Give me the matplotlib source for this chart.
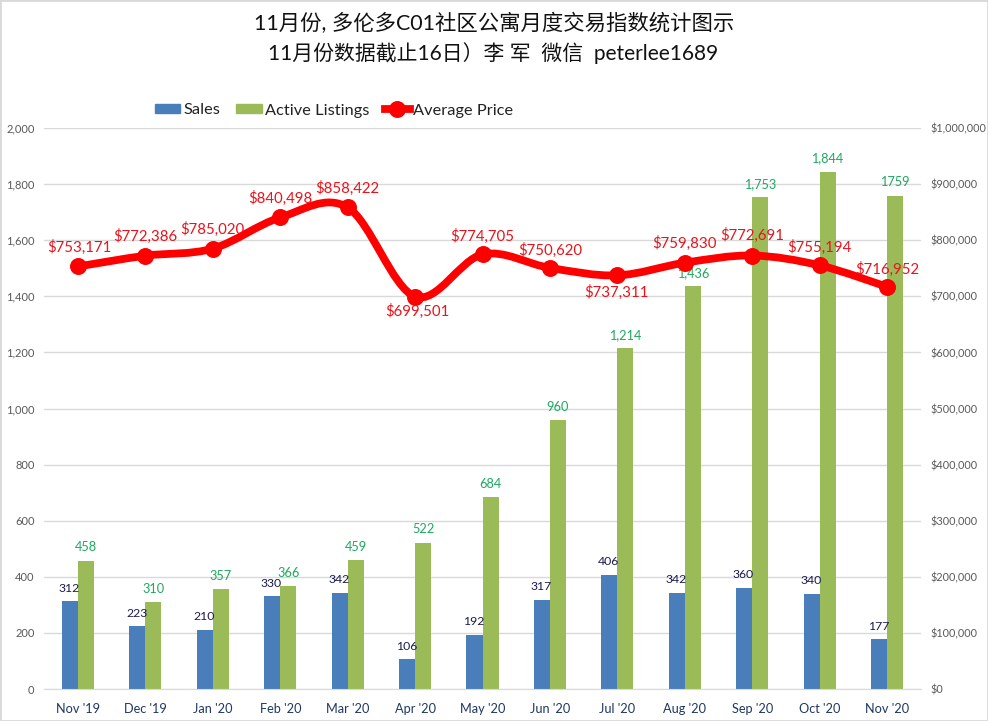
import numpy as np
import matplotlib
matplotlib.use('Agg')
import matplotlib.pyplot as plt
from matplotlib.path import Path
from matplotlib.patches import PathPatch, Patch, Rectangle
from matplotlib.lines import Line2D

months = ["Nov '19", "Dec '19", "Jan '20", "Feb '20", "Mar '20", "Apr '20", "May '20",
          "Jun '20", "Jul '20", "Aug '20", "Sep '20", "Oct '20", "Nov '20"]
sales = [312, 223, 210, 330, 342, 106, 192, 317, 406, 342, 360, 340, 177]
listings = [458, 310, 357, 366, 459, 522, 684, 960, 1214, 1436, 1753, 1844, 1759]
listing_labels = ['458', '310', '357', '366', '459', '522', '684', '960', '1,214', '1,436',
                  '1,753', '1,844', '1759']
prices = [753171, 772386, 785020, 840498, 858422, 699501, 774705, 750620, 737311,
          759830, 772691, 755194, 716952]
title_lines = ['11月份, 多伦多C01社区公寓月度交易指数统计图示',
               '11月份数据截止16日）李 军  微信  peterlee1689']

FONT = ['Lato', 'Noto Sans CJK SC', 'DejaVu Sans']
plt.rcParams['font.family'] = FONT

W, H = 988, 721
fig = plt.figure(figsize=(W / 100, H / 100), dpi=100, facecolor='white')
L, R, T, B = 44.3, 920.7, 128, 689
ax = fig.add_axes([L / W, 1 - B / H, (R - L) / W, (B - T) / H])
ax2 = ax.twinx()
fig.add_artist(Rectangle((0, 0), 1, 1, transform=fig.transFigure, fill=False,
                         edgecolor='#D9D9D9', linewidth=2))

x = np.arange(len(months))
bw = 16 / 67.4
BLUE, GREEN, RED = '#4A7EBB', '#9BBB59', '#FF0000'
ax.bar(x - bw / 2, sales, bw, color=BLUE, zorder=2)
ax.bar(x + bw / 2, listings, bw, color=GREEN, zorder=2)
ax.set_xlim(-0.5, len(months) - 0.5)
ax.set_ylim(0, 2000)
ax.set_yticks(range(0, 2001, 200))
ax.set_yticklabels([f'{v:,}' for v in range(0, 2001, 200)])
ax.set_xticks(x)
ax.set_xticklabels(months)
ax.grid(axis='y', color='#D9D9D9', linewidth=1, zorder=0)
ax.set_axisbelow(True)
ax2.set_ylim(0, 1000000)
ax2.set_yticks(range(0, 1000001, 100000))
ax2.set_yticklabels([f'${v:,}' for v in range(0, 1000001, 100000)])
for a in (ax, ax2):
    for s in ('top', 'left', 'right'):
        a.spines[s].set_visible(False)
    a.spines['bottom'].set_visible(False)
ax.spines['bottom'].set_visible(True)
ax.spines['bottom'].set_color('#D9D9D9')
ax.tick_params(axis='y', length=0, labelsize=8.0, labelcolor='#595959', pad=7)
ax2.tick_params(axis='y', length=0, labelsize=7.8, labelcolor='#595959', pad=7)
ax.tick_params(axis='x', length=0, labelsize=9.2, labelcolor='#1F3864', pad=10)

# Excel-style smoothed line through the monthly prices
verts = [(x[0], prices[0])]
codes = [Path.MOVETO]
n = len(x)
for i in range(n - 1):
    p0 = np.array([x[max(i - 1, 0)], prices[max(i - 1, 0)]], float)
    p1 = np.array([x[i], prices[i]], float)
    p2 = np.array([x[i + 1], prices[i + 1]], float)
    p3 = np.array([x[min(i + 2, n - 1)], prices[min(i + 2, n - 1)]], float)
    verts += [tuple(p1 + (p2 - p0) / 6), tuple(p2 - (p3 - p1) / 6), tuple(p2)]
    codes += [Path.CURVE4] * 3
ax2.add_patch(PathPatch(Path(verts, codes), fill=False, edgecolor=RED, linewidth=5.6,
                        capstyle='round', zorder=4))
ax2.plot(x, prices, linestyle='none', marker='o', markersize=11.2, color=RED, zorder=5)

for xi, v in zip(x, sales):
    ax.annotate(str(v), (xi - bw / 2, v), xytext=(-0.5, 9.5), textcoords='offset points',
                ha='center', va='center', fontsize=8.8, color='#1B1B4F', zorder=6)
for xi, v, t in zip(x, listings, listing_labels):
    ax.annotate(t, (xi + bw / 2, v), xytext=(0, 9.5), textcoords='offset points',
                ha='center', va='center', fontsize=9.2, color='#1FA85F', zorder=6)

price_offset = [(1.5, 19), (0, 19), (0, 19), (0, 19), (0, 19), (2, -15), (0, 18),
                (0, 18), (-1, -17), (0, 19), (0, 20), (0, 18), (0, 17)]
for xi, v, (dx, dy) in zip(x, prices, price_offset):
    ax2.annotate(f'${v:,}', (xi, v), xytext=(dx * 0.72, dy * 0.72), textcoords='offset points',
                 ha='center', va='center', fontsize=10.8, color='#E8141C', zorder=7)

fig.text(494 / W, 1 - 24 / H, title_lines[0], ha='center', va='center', fontsize=15.4,
         color='#111111', family=FONT)
fig.text(493 / W, 1 - 53 / H, title_lines[1], ha='center', va='center', fontsize=15.0,
         color='#111111', family=FONT)

handles = [Patch(color=BLUE, label='Sales'), Patch(color=GREEN, label='Active Listings'),
           Line2D([0], [0], color=RED, lw=5.6, marker='o', ms=11.2, label='Average Price')]
ax2.legend(handles=handles, loc='center left', bbox_to_anchor=((155 - L) / (R - L), 1 + 17.5 / (B - T)),
           ncol=3, frameon=False, fontsize=11.8, handlelength=1.55, handleheight=0.5,
           handletextpad=0.2, columnspacing=0.95, borderaxespad=0, borderpad=0, labelcolor='#222222')

fig.savefig('out.png', dpi=100)
